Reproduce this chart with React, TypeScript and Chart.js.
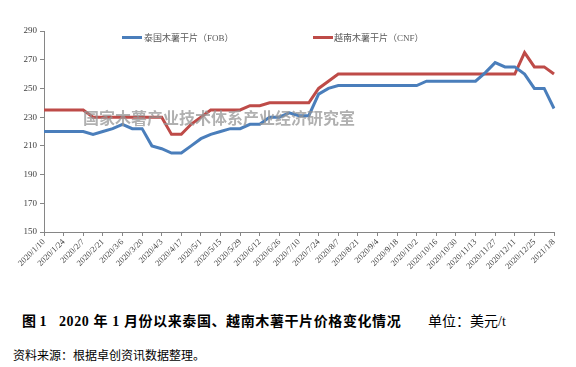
import React, { useEffect, useRef } from 'react';
import { Chart, registerables } from 'chart.js';

Chart.register(...registerables);

const dates: string[] = [
  '2020/1/10', '2020/1/17', '2020/1/24', '2020/1/31', '2020/2/7', '2020/2/14', '2020/2/21', '2020/2/28',
  '2020/3/6', '2020/3/13', '2020/3/20', '2020/3/27', '2020/4/3', '2020/4/10', '2020/4/17', '2020/4/24',
  '2020/5/1', '2020/5/8', '2020/5/15', '2020/5/22', '2020/5/29', '2020/6/5', '2020/6/12', '2020/6/19',
  '2020/6/26', '2020/7/3', '2020/7/10', '2020/7/17', '2020/7/24', '2020/7/31', '2020/8/7', '2020/8/14',
  '2020/8/21', '2020/8/28', '2020/9/4', '2020/9/11', '2020/9/18', '2020/9/25', '2020/10/2', '2020/10/9',
  '2020/10/16', '2020/10/23', '2020/10/30', '2020/11/6', '2020/11/13', '2020/11/20', '2020/11/27', '2020/12/4',
  '2020/12/11', '2020/12/18', '2020/12/25', '2021/1/1', '2021/1/8',
];

const thaiFOB: number[] = [
  220, 220, 220, 220, 220, 218, 220, 222, 225, 222, 222, 210, 208, 205, 205, 210,
  215, 218, 220, 222, 222, 225, 225, 230, 230, 233, 231, 231, 246, 250, 252, 252,
  252, 252, 252, 252, 252, 252, 252, 255, 255, 255, 255, 255, 255, 261, 268, 265,
  265, 260, 250, 250, 236,
];

const vietnamCNF: number[] = [
  235, 235, 235, 235, 235, 230, 230, 230, 230, 230, 230, 230, 230, 218, 218, 225,
  230, 235, 235, 235, 235, 238, 238, 240, 240, 240, 240, 240, 250, 255, 260, 260,
  260, 260, 260, 260, 260, 260, 260, 260, 260, 260, 260, 260, 260, 260, 260, 260,
  260, 275, 265, 265, 260,
];

const seriesNames: string[] = ['泰国木薯干片（FOB）', '越南木薯干片（CNF）'];
const yTicks: number[] = [150, 170, 190, 210, 230, 250, 270, 290];

const BLUE = '#4A7EBB';
const RED = '#BE4B48';
const AXIS = '#868686';
const SERIF = '"Liberation Serif", "Noto Sans CJK SC", serif';

export default function App() {
  const canvasRef = useRef<HTMLCanvasElement | null>(null);

  useEffect(() => {
    const canvas = canvasRef.current;
    if (!canvas) return;
    const chart = new Chart(canvas, {
      type: 'line',
      data: {
        labels: dates,
        datasets: [
          {
            label: seriesNames[0],
            data: thaiFOB,
            borderColor: BLUE,
            backgroundColor: BLUE,
            borderWidth: 3,
            pointRadius: 0,
            tension: 0,
            fill: false,
          },
          {
            label: seriesNames[1],
            data: vietnamCNF,
            borderColor: RED,
            backgroundColor: RED,
            borderWidth: 3,
            pointRadius: 0,
            tension: 0,
            fill: false,
          },
        ],
      },
      options: {
        responsive: false,
        animation: false,
        layout: { padding: { top: 31, right: 22, left: 0, bottom: 0 } },
        plugins: {
          legend: { display: false },
          tooltip: { enabled: false },
        },
        scales: {
          x: {
            type: 'category',
            offset: false,
            grid: {
              display: true,
              drawOnChartArea: false,
              drawTicks: true,
              tickLength: 4,
              color: AXIS,
            },
            border: { display: true, color: AXIS, width: 1 },
            ticks: {
              autoSkip: false,
              maxRotation: 45,
              minRotation: 45,
              padding: 1,
              color: '#404040',
              font: { family: SERIF, size: 8.5 },
              callback: (_v: any, i: number) => (i % 2 === 0 ? dates[i] : null),
            },
            afterFit: (s: any) => {
              s.height = 68;
            },
          },
          y: {
            min: yTicks[0],
            max: yTicks[yTicks.length - 1],
            afterBuildTicks: (s: any) => {
              s.ticks = yTicks.map((v) => ({ value: v }));
            },
            grid: {
              display: true,
              drawOnChartArea: false,
              drawTicks: true,
              tickLength: 4,
              color: AXIS,
            },
            border: { display: true, color: AXIS, width: 1 },
            ticks: {
              padding: 3,
              color: '#404040',
              font: { family: SERIF, size: 9 },
            },
            afterFit: (s: any) => {
              s.width = 44;
            },
          },
        },
      },
    });
    return () => chart.destroy();
  }, []);

  const legendText: React.CSSProperties = {
    position: 'absolute',
    top: 31,
    height: 14,
    lineHeight: '14px',
    fontSize: 9,
    fontFamily: SERIF,
    color: '#595959',
    whiteSpace: 'nowrap',
  };

  return (
    <div
      style={{
        position: 'absolute',
        left: 0,
        top: 0,
        width: 576,
        height: 367,
        background: '#ffffff',
        overflow: 'hidden',
        fontFamily: SERIF,
      }}
    >
      <canvas ref={canvasRef} width={576} height={300} style={{ position: 'absolute', left: 0, top: 0 }} />

      <div style={{ position: 'absolute', left: 122, top: 36, width: 20, height: 3, background: BLUE }} />
      <div style={{ ...legendText, left: 144 }}>{seriesNames[0]}</div>
      <div style={{ position: 'absolute', left: 313, top: 36, width: 20, height: 3, background: RED }} />
      <div style={{ ...legendText, left: 334 }}>{seriesNames[1]}</div>

      <div
        style={{
          position: 'absolute',
          left: 83,
          top: 110,
          height: 17,
          lineHeight: '17px',
          fontSize: 16,
          fontWeight: 'bold',
          fontFamily: SERIF,
          color: 'rgba(150,150,150,0.75)',
          whiteSpace: 'nowrap',
          pointerEvents: 'none',
        }}
      >
        国家木薯产业技术体系产业经济研究室
      </div>

      <div
        style={{
          position: 'absolute',
          left: 22,
          top: 313,
          height: 17,
          lineHeight: '17px',
          fontSize: 14,
          fontWeight: 'bold',
          color: '#000',
          whiteSpace: 'nowrap',
        }}
      >
        图 1
      </div>
      <div
        style={{
          position: 'absolute',
          left: 59,
          top: 313,
          height: 17,
          lineHeight: '17px',
          fontSize: 14,
          fontWeight: 'bold',
          color: '#000',
          whiteSpace: 'nowrap',
          letterSpacing: '0.6px',
        }}
      >
        2020 年 1 月份以来泰国、越南木薯干片价格变化情况
      </div>
      <div
        style={{
          position: 'absolute',
          left: 428,
          top: 313,
          height: 17,
          lineHeight: '17px',
          fontSize: 14,
          color: '#000',
          whiteSpace: 'nowrap',
        }}
      >
        单位：美元/t
      </div>
      <div
        style={{
          position: 'absolute',
          left: 13,
          top: 349,
          height: 14,
          lineHeight: '14px',
          fontSize: 12,
          color: '#000',
          whiteSpace: 'nowrap',
        }}
      >
        资料来源：根据卓创资讯数据整理。
      </div>
    </div>
  );
}
